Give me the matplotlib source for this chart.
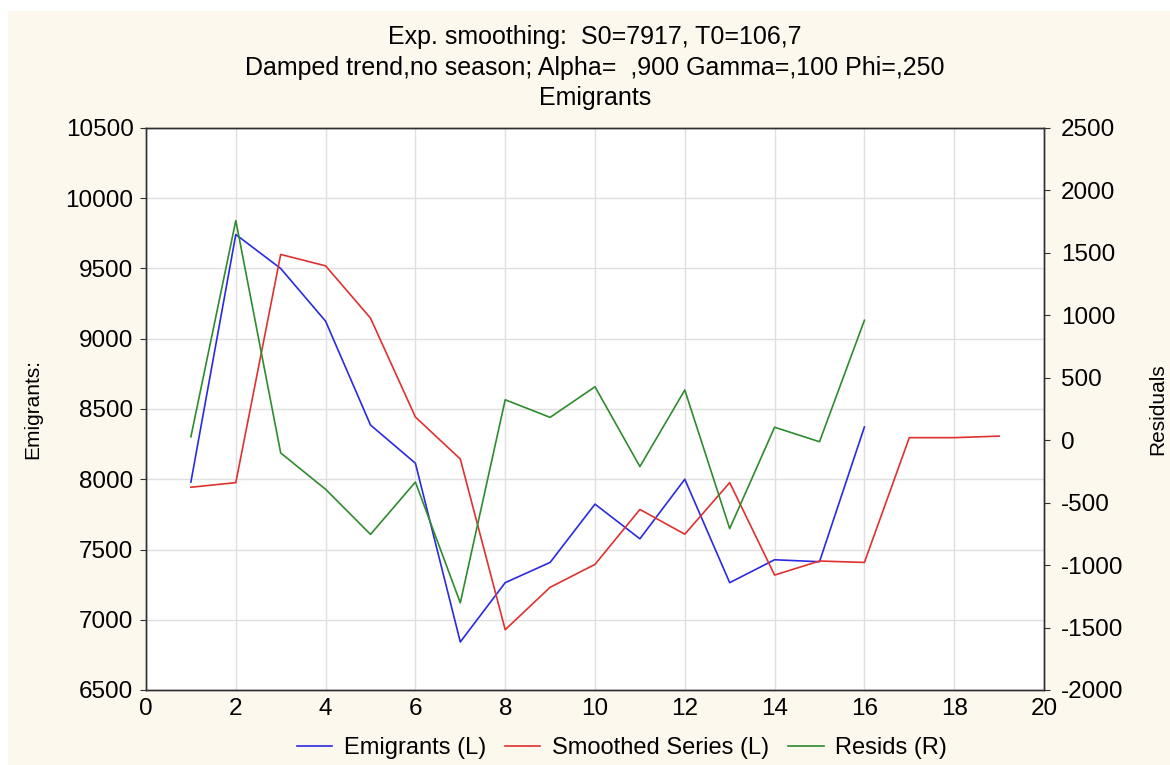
import matplotlib
matplotlib.use('Agg')
import matplotlib.pyplot as plt
from matplotlib.patches import Rectangle

# Data
x_obs = list(range(1, 17))
x_smooth = list(range(1, 20))
emigrants = [7980, 9742, 9500, 9125, 8386, 8114, 6842, 7264, 7408, 7823,
             7576, 8000, 7264, 7427, 7413, 8372]
smoothed = [7943, 7976, 9600, 9519, 9147, 8443, 8144, 6929, 7231, 7394,
            7785, 7609, 7976, 7318, 7418, 7408, 8296, 8296, 8307]
resids = [27, 1759, -102, -393, -754, -335, -1302, 324, 183, 428,
          -211, 402, -708, 104, -12, 960]

titles = ['Exp. smoothing:  S0=7917, T0=106,7',
          'Damped trend,no season; Alpha=  ,900 Gamma=,100 Phi=,250',
          'Emigrants']

plt.rcParams['font.family'] = ['Liberation Sans', 'DejaVu Sans']
plt.rcParams['axes.unicode_minus'] = False

W, H = 1170, 765
fig = plt.figure(figsize=(W / 100, H / 100), dpi=100, facecolor='white')
bg = '#fdf8ee'
fig.patches.append(Rectangle((8 / W, 0), 1 - 8 / W, 1 - 11 / H,
                             transform=fig.transFigure, facecolor=bg,
                             edgecolor='none', zorder=-10))

left, right, top, bottom = 146 / W, 1044 / W, 1 - 128 / H, 1 - 690 / H
ax = fig.add_axes([left, bottom, right - left, top - bottom])
ax2 = ax.twinx()

l1, = ax.plot(x_obs, emigrants, color='#2a2ae0', lw=1.2, label='Emigrants (L)')
l2, = ax.plot(x_smooth, smoothed, color='#e03030', lw=1.2, label='Smoothed Series (L)')
l3, = ax2.plot(x_obs, resids, color='#2e8b2e', lw=1.2, label='Resids (R)')

ax.set_xlim(0, 20)
ax.set_ylim(6500, 10500)
ax2.set_ylim(-2000, 2500)
ax.set_xticks(range(0, 21, 2))
ax.set_yticks(range(6500, 10501, 500))
ax2.set_yticks(range(-2000, 2501, 500))
ax.grid(True, color='#e0e0e0', lw=1.0)
ax.set_axisbelow(True)

for a in (ax, ax2):
    for s in a.spines.values():
        s.set_color('#303030')
        s.set_linewidth(1.0)
ax.tick_params(axis='y', direction='out', length=4, labelsize=17.5, pad=5, color='#303030')
ax.tick_params(axis='x', length=0, labelsize=17.5, pad=6)
ax2.tick_params(axis='y', direction='out', length=4, labelsize=17.5, pad=8, color='#303030')

ax.set_ylabel('Emigrants:', fontsize=15, labelpad=17)
ax2.set_ylabel('Residuals', fontsize=15, labelpad=18)

cx = (left + right) / 2
for i, t in enumerate(titles):
    fig.text(cx, 1 - (37 + 30.5 * i) / H, t, ha='center', va='center',
             fontsize=18)

fig.legend(handles=[l1, l2, l3], loc='center', bbox_to_anchor=(622 / W, 1 - 748 / H),
           ncol=3, frameon=False, handlelength=1.5, columnspacing=0.8,
           handletextpad=0.5, prop={'size': 17})

fig.savefig('out.png', dpi=100, facecolor='white')
